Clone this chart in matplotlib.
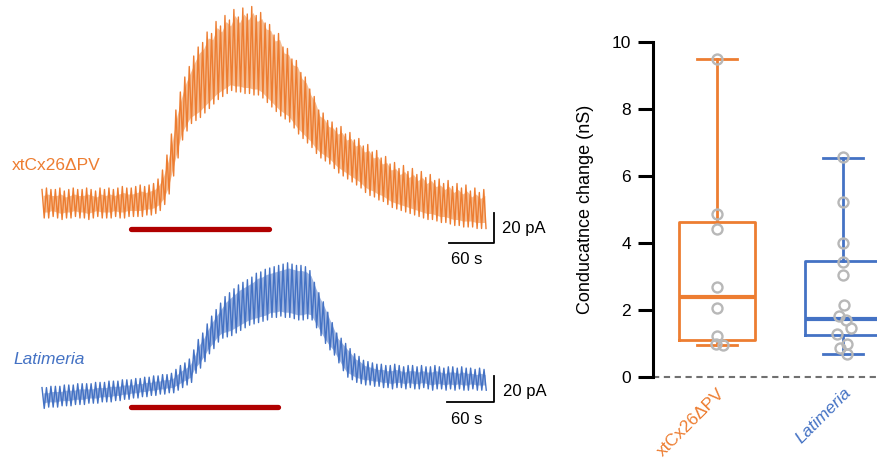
import numpy as np
import matplotlib
matplotlib.use("Agg")
import matplotlib.pyplot as plt

plt.rcParams['font.family'] = ['Liberation Sans', 'DejaVu Sans']

ORANGE = '#ED7D31'
ORANGE_LIGHT = '#F5BD93'
BLUE = '#4472C4'
BLUE_LIGHT = '#9FB5E0'
STIM = '#B00000'
DOT = '#B8B8B8'

# --- whole-cell traces: peak / trough of each voltage-step cycle (pA) ---
orange_top = [9, 10, 9, 9, 10, 8, 9, 10, 9, 9, 10, 9, 8, 10, 9, 10, 9, 10, 11, 10, 10, 11, 12, 11,
              12, 13, 16, 22, 32, 46, 62, 74, 84, 91, 98, 104, 107, 114, 113, 121, 118, 125, 122, 129,
              124, 130, 126, 131, 125, 127,
              120, 119, 112, 113, 104, 103, 96, 95, 87, 84, 76, 71, 62, 60, 55, 54, 50, 51, 46, 47,
              42, 43, 38, 39, 34, 35,
              30, 31, 26, 27, 23, 25, 21, 23, 19, 21, 17, 19, 15, 16, 13, 15, 11, 13, 10, 12, 8, 10, 7, 9]
orange_bot = [-10, -10, -9, -10, -11, -10, -10, -9, -10, -10, -11, -10, -9, -10, -10, -10, -9, -10,
              -10, -9, -9, -9, -9, -8,
              -8, -7, -5, -1, 6, 18, 30, 42, 48, 53, 55, 57, 60, 63, 66, 69, 71, 73, 75, 74, 74, 73,
              73, 72, 72, 70,
              67, 64, 61, 58, 56, 54, 50, 46, 43, 40, 37, 33, 30, 28, 26, 23, 20, 18, 16, 14, 12, 10,
              7, 5, 4, 2,
              1, -1, -3, -4, -5, -6, -7, -8, -9, -10, -11, -11, -12, -13, -13, -14, -15, -15, -16, -16,
              -16, -17, -17, -17]

blue_top = [8, 8, 9, 9, 9, 10, 10, 10, 11, 11, 11, 11, 12, 12, 12,
            13, 13, 13, 14, 14, 14, 15, 15, 16, 16, 17, 17, 18, 18,
            19, 22, 25, 27, 30, 37, 45, 50, 57, 63, 68, 73, 78, 81, 84, 87, 89, 91, 93, 96,
            97, 99, 100, 101, 102, 103, 104, 103, 102, 102, 101, 98, 89, 81, 74, 66, 58, 50, 46, 42,
            38, 34, 32, 29, 28, 27, 26,
            26, 25, 25, 26, 25, 24, 25, 25, 24, 25, 24, 24, 25, 24, 23, 24, 24, 23, 24, 23, 23, 22,
            23, 22]
blue_bot = [-8, -7, -7, -7, -6, -6, -6, -5, -5, -5, -4, -4, -4, -3, -3,
            -3, -2, -2, -1, -1, 0, 0, 1, 1, 2, 2, 3, 3, 4,
            4, 6, 8, 10, 12, 19, 23, 28, 34, 38, 43, 46, 47, 48, 50, 52, 54, 56, 57, 58,
            59, 60, 62, 62, 63, 62, 62, 61, 60, 60, 61, 60, 54, 48, 42, 37, 33, 27, 21, 16,
            14, 12, 11, 10, 10, 9, 9,
            8, 8, 7, 8, 8, 7, 8, 7, 7, 8, 7, 6, 7, 7, 6, 7, 6, 7, 6, 6, 7, 6, 6, 6]

orange_period = 5.95   # s per step cycle
blue_period = 5.7
orange_stim = [119, 303]   # s, bath application
blue_stim = [114, 301]

# --- conductance change (nS) ---
groups = ['xtCx26\u0394PV', 'Latimeria']
orange_pts = [9.5, 4.86, 4.41, 2.70, 2.05, 1.22, 1.0, 0.95]
orange_dx = [0, 0, 0, 0, 0, 0, -0.01, 0.05]
blue_pts = [6.56, 5.23, 3.99, 3.44, 3.04, 2.15, 1.82, 1.70, 1.47, 1.27, 0.98, 0.86, 0.68]
blue_dx = [0, 0, 0, 0, 0, 0.01, -0.03, 0.02, 0.06, -0.05, 0.03, -0.02, 0.03]
box_stats = [dict(med=2.38, q1=1.10, q3=4.63, whislo=0.95, whishi=9.5, fliers=[]),
             dict(med=1.72, q1=1.25, q3=3.46, whislo=0.69, whishi=6.55, fliers=[])]

W, H = 878, 462
fig = plt.figure(figsize=(W / 100, H / 100), dpi=100)


def px_axes(x0, y0, x1, y1):
    return fig.add_axes([x0 / W, 1 - y1 / H, (x1 - x0) / W, (y1 - y0) / H])


def draw_trace(ax, top, bot, period, color, light):
    t = np.arange(len(top)) * period
    xs = np.empty(2 * len(top))
    ys = np.empty(2 * len(top))
    xs[0::2] = t
    xs[1::2] = t + period / 2
    ys[0::2] = top
    ys[1::2] = bot
    # light band where the trace flips back and forth
    ax.fill_between(t + period / 4, np.array(bot) + 4, np.array(top) - 4,
                    color=light, lw=0, zorder=1)
    ax.plot(xs, ys, color=color, lw=1.0, zorder=2)


# orange trace: 45 px = 60 s, 30 px = 20 pA, baseline at y=203 px
ax_o = px_axes(0, 0, 560, 250)
s_o = 60 / 45
ax_o.set_xlim(-42 * s_o, 518 * s_o)
ax_o.set_ylim(-47 / 1.5, 203 / 1.5)
draw_trace(ax_o, orange_top, orange_bot, orange_period, ORANGE, ORANGE_LIGHT)
ax_o.plot(orange_stim, [-17.3, -17.3], color=STIM, lw=3.8, solid_capstyle='round')
ax_o.plot([602 - 60, 602, 602], [-26.7, -26.7, -6.7], color='black', lw=1.3, clip_on=False)
ax_o.text(614, -17.0, '20 pA', fontsize=12, va='center', ha='left')
ax_o.axis('off')

# blue trace: 47 px = 60 s, 26 px = 20 pA, baseline at y=398 px
ax_l = px_axes(0, 255, 560, 460)
s_l = 60 / 47
ax_l.set_xlim(-42 * s_l, 518 * s_l)
ax_l.set_ylim(-62 / 1.3, 143 / 1.3)
draw_trace(ax_l, blue_top, blue_bot, blue_period, BLUE, BLUE_LIGHT)
ax_l.plot(blue_stim, [-6.9, -6.9], color=STIM, lw=3.8, solid_capstyle='round')
ax_l.plot([577 - 60, 577, 577], [-3.1, -3.1, 16.9], color='black', lw=1.3, clip_on=False)
ax_l.text(588, 5.0, '20 pA', fontsize=12, va='center', ha='left')
ax_l.axis('off')

fig.text(467 / W, 1 - 259 / H, '60 s', fontsize=12, ha='center', va='center')
fig.text(467 / W, 1 - 419 / H, '60 s', fontsize=12, ha='center', va='center')
fig.text(12 / W, 1 - 165 / H, groups[0], fontsize=12.5, color=ORANGE, va='center')
fig.text(13 / W, 1 - 360 / H, groups[1], fontsize=12.5, color=BLUE, va='center', style='italic')

# box plot
ax_b = px_axes(653, 42, 878, 377)
bp = ax_b.bxp(box_stats, positions=[1, 2], widths=0.61, capwidths=0.31, showfliers=False)
for i, c in enumerate([ORANGE, BLUE]):
    bp['boxes'][i].set(color=c, lw=2.0)
    bp['medians'][i].set(color=c, lw=3.0, solid_capstyle='butt')
    for k in (2 * i, 2 * i + 1):
        bp['whiskers'][k].set(color=c, lw=2.0)
        bp['caps'][k].set(color=c, lw=2.0)
ax_b.plot(1 + np.array(orange_dx), orange_pts, 'o', ms=7.2, mfc='none', mec=DOT, mew=1.7, zorder=5)
ax_b.plot(2 + np.array(blue_dx), blue_pts, 'o', ms=7.2, mfc='none', mec=DOT, mew=1.7, zorder=5)
ax_b.axhline(0, color='#707070', lw=1.5, ls=(0, (3, 2.2)), clip_on=False, zorder=1)

ax_b.set_xlim(1 - 64 / 126, 1 + 161 / 126)
ax_b.set_ylim(0, 10)
ax_b.set_yticks([0, 2, 4, 6, 8, 10])
ax_b.tick_params(axis='y', length=11, width=2.2, labelsize=12.5, pad=5, direction='out')
ax_b.tick_params(axis='x', length=0, pad=6)
ax_b.set_xticks([1, 2])
ax_b.set_xticklabels(groups, rotation=45, ha='right', rotation_mode='anchor', fontsize=12.5)
for lab, c in zip(ax_b.get_xticklabels(), [ORANGE, BLUE]):
    lab.set_color(c)
ax_b.get_xticklabels()[1].set_style('italic')
for s in ('top', 'right', 'bottom'):
    ax_b.spines[s].set_visible(False)
ax_b.spines['left'].set_linewidth(2.2)
ax_b.set_ylabel('Conducatnce change (nS)', fontsize=13)
ax_b.yaxis.set_label_coords(-0.26, 0.5)

fig.savefig('out.png', dpi=100)
